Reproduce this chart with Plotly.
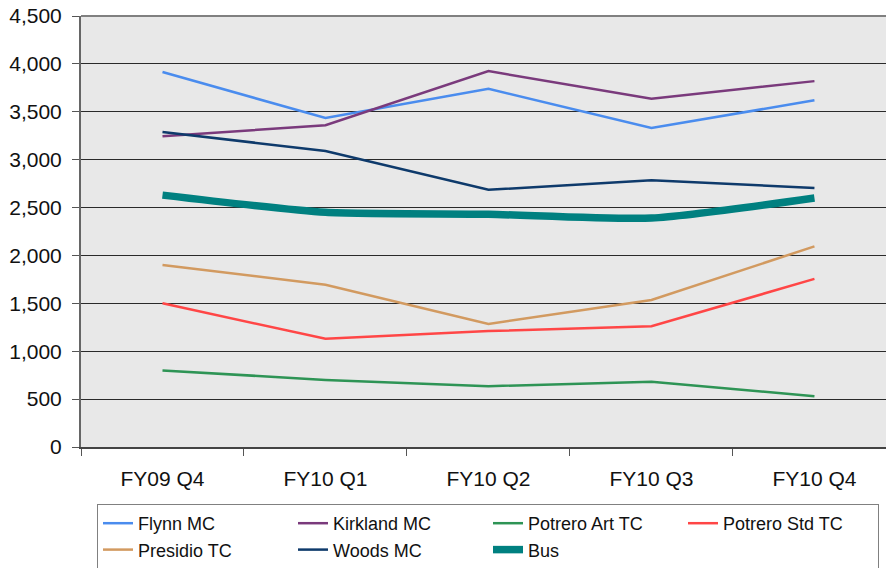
import plotly.graph_objects as go

quarters = ["FY09 Q4", "FY10 Q1", "FY10 Q2", "FY10 Q3", "FY10 Q4"]
flynn_mc = [3915, 3435, 3740, 3330, 3620]
kirkland_mc = [3245, 3360, 3925, 3635, 3820]
potrero_art_tc = [800, 700, 635, 680, 530]
potrero_std_tc = [1500, 1130, 1210, 1260, 1755]
presidio_tc = [1900, 1695, 1285, 1535, 2095]
woods_mc = [3290, 3090, 2685, 2785, 2705]
bus = [2630, 2450, 2430, 2390, 2600]

series = [
    ("Flynn MC", flynn_mc, "#4A8CEE", 2.5),
    ("Kirkland MC", kirkland_mc, "#7A3A7C", 2.5),
    ("Potrero Art TC", potrero_art_tc, "#2E9455", 2.5),
    ("Potrero Std TC", potrero_std_tc, "#FF4646", 2.5),
    ("Presidio TC", presidio_tc, "#D29A60", 2.5),
    ("Woods MC", woods_mc, "#0E3A6B", 2.5),
]

fig = go.Figure()
for name, vals, col, w in series:
    fig.add_trace(go.Scatter(x=quarters, y=vals, name=name, mode="lines",
                             line=dict(color=col, width=w)))
fig.add_trace(go.Scatter(x=quarters, y=bus, name="Bus", mode="lines",
                         line=dict(color="#008080", width=7.5, shape="spline", smoothing=0.6)))

font_main = "Liberation Sans, Arial, sans-serif"

W, H = 886, 568

fig.update_layout(
    width=W, height=H,
    margin=dict(l=81, r=0, t=16, b=121, autoexpand=False),
    paper_bgcolor="white",
    plot_bgcolor="#E8E8E8",
    showlegend=True,
    legend=dict(
        orientation="h",
        xref="container", yref="container",
        x=97 / W, xanchor="left",
        y=(H - 504) / H, yanchor="top",
        bordercolor="#808080", borderwidth=1,
        bgcolor="white",
        font=dict(family=font_main, size=18, color="#111"),
        entrywidth=150, entrywidthmode="pixels",
        tracegroupgap=0,
        traceorder="normal",
    ),
    xaxis=dict(
        type="category",
        range=[-0.5, 4.439],
        showgrid=False, zeroline=False,
        ticks="outside", tickson="boundaries", ticklen=7, tickcolor="#555",
        showline=True, linecolor="#444", linewidth=2,
        tickfont=dict(family=font_main, size=21, color="#111"),
        ticklabelstandoff=12,
        ticklabeloverflow="allow",
        automargin=False,
        fixedrange=True,
    ),
    yaxis=dict(
        range=[0, 4500], dtick=500, tickformat=",d",
        showgrid=True, gridcolor="#2a2a2a", gridwidth=1,
        zeroline=False,
        ticks="outside", ticklen=7, tickcolor="#555",
        showline=True, linecolor="#666", linewidth=2,
        tickfont=dict(family=font_main, size=21, color="#111"),
        ticklabelstandoff=6,
        ticklabeloverflow="allow",
        automargin=False,
        fixedrange=True,
    ),
    shapes=[dict(type="line", xref="paper", yref="paper", x0=0, x1=1, y0=1, y1=1,
                 line=dict(color="#808080", width=2))],
)

fig.write_html("out.html",
               config={"displayModeBar": False},
               post_script="document.body.style.margin='0';document.body.style.overflow='hidden';")
